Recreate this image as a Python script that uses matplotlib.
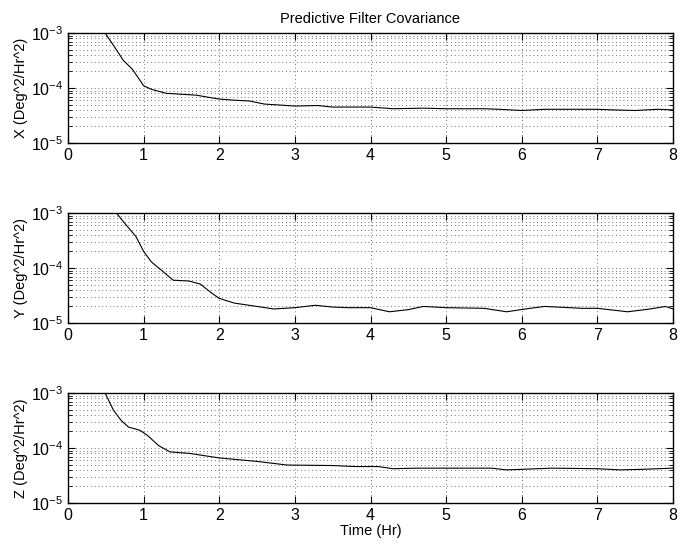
#!/usr/bin/env python3

import matplotlib.pyplot as plt
from matplotlib.ticker import LogLocator, FixedLocator

plt.rcParams['font.family'] = ['Liberation Sans', 'DejaVu Sans']

# Predictive filter covariance
t_x = [0.40, 0.49, 0.60, 0.73, 0.85, 0.92, 1.00, 1.10, 1.30, 1.50, 1.70, 1.85, 2.00, 2.20,
       2.40, 2.60, 2.80, 3.00, 3.30, 3.50, 3.80, 4.00, 4.30, 4.70, 5.00, 5.50, 5.70, 6.00,
       6.30, 6.50, 7.00, 7.20, 7.50, 7.80, 8.00]
cov_x = [1.6e-3, 1.0e-3, 6.0e-4, 3.2e-4, 2.2e-4, 1.6e-4, 1.1e-4, 9.5e-5, 8.0e-5, 7.7e-5,
         7.4e-5, 6.8e-5, 6.3e-5, 6.0e-5, 5.8e-5, 5.1e-5, 4.9e-5, 4.7e-5, 4.8e-5, 4.5e-5,
         4.5e-5, 4.5e-5, 4.2e-5, 4.3e-5, 4.2e-5, 4.2e-5, 4.1e-5, 3.9e-5, 4.1e-5, 4.1e-5,
         4.1e-5, 4.0e-5, 3.9e-5, 4.1e-5, 4.0e-5]

t_y = [0.50, 0.64, 0.75, 0.90, 1.00, 1.10, 1.24, 1.39, 1.60, 1.75, 1.90, 2.00, 2.20, 2.50,
       2.72, 3.00, 3.27, 3.50, 3.70, 4.00, 4.25, 4.50, 4.70, 5.00, 5.50, 5.80, 6.05, 6.30,
       6.80, 7.00, 7.40, 7.70, 7.90, 8.00]
cov_y = [1.8e-3, 1.0e-3, 6.5e-4, 3.7e-4, 2.0e-4, 1.3e-4, 9.0e-5, 6.0e-5, 5.8e-5, 5.1e-5,
         3.5e-5, 2.8e-5, 2.3e-5, 2.0e-5, 1.8e-5, 1.9e-5, 2.1e-5, 1.95e-5, 1.9e-5, 1.9e-5,
         1.6e-5, 1.75e-5, 2.0e-5, 1.9e-5, 1.85e-5, 1.6e-5, 1.8e-5, 2.0e-5, 1.85e-5, 1.85e-5,
         1.6e-5, 1.8e-5, 2.0e-5, 1.8e-5]

t_z = [0.40, 0.49, 0.60, 0.70, 0.80, 0.95, 1.05, 1.20, 1.35, 1.60, 2.00, 2.50, 2.90, 3.50,
       3.80, 4.10, 4.30, 4.60, 5.00, 5.60, 5.80, 6.40, 7.00, 7.30, 7.60, 8.00]
cov_z = [1.7e-3, 1.0e-3, 4.9e-4, 3.2e-4, 2.4e-4, 2.1e-4, 1.7e-4, 1.1e-4, 8.5e-5, 8.0e-5,
         6.6e-5, 5.7e-5, 4.9e-5, 4.8e-5, 4.6e-5, 4.6e-5, 4.2e-5, 4.3e-5, 4.3e-5, 4.3e-5,
         4.0e-5, 4.3e-5, 4.2e-5, 4.0e-5, 4.1e-5, 4.3e-5]

labels = ['X (Deg^2/Hr^2)', 'Y (Deg^2/Hr^2)', 'Z (Deg^2/Hr^2)']
series = [(t_x, cov_x), (t_y, cov_y), (t_z, cov_z)]

fig = plt.figure(figsize=(6.91, 5.45), dpi=100)
W, H = 691, 545
tops = [33, 213, 393]
grid_style = dict(color='#444444', ls=(0, (1, 3.5)), lw=0.6)
for i, ((t, c), lab) in enumerate(zip(series, labels)):
    top = tops[i]
    ax = fig.add_axes([68 / W, 1 - (top + 110) / H, 605 / W, 110 / H])
    ax.plot(t, c, color='black', lw=0.8)
    ax.set_yscale('log')
    ax.set_xlim(0, 8)
    ax.set_ylim(1e-5, 1e-3)
    ax.xaxis.set_major_locator(FixedLocator(range(9)))
    ax.yaxis.set_major_locator(LogLocator(base=10, numticks=5))
    ax.yaxis.set_minor_locator(LogLocator(base=10, subs=range(2, 10), numticks=20))
    ax.grid(True, which='major', axis='x', **grid_style)
    ax.grid(True, which='both', axis='y', **grid_style)
    ax.tick_params(which='both', direction='in', top=True, right=True, labelsize=11.5)
    ax.tick_params(which='major', length=5)
    ax.tick_params(which='minor', length=3)
    ax.yaxis.set_minor_formatter(plt.NullFormatter())
    for s in ax.spines.values():
        s.set_linewidth(1.0)
    ax.set_ylabel(lab, fontsize=10.5, labelpad=2)
    if i == 0:
        ax.set_title('Predictive Filter Covariance', fontsize=10.5, pad=7)
    if i == 2:
        ax.set_xlabel('Time (Hr)', fontsize=10.5, labelpad=1)

fig.savefig('out.png', dpi=100)
